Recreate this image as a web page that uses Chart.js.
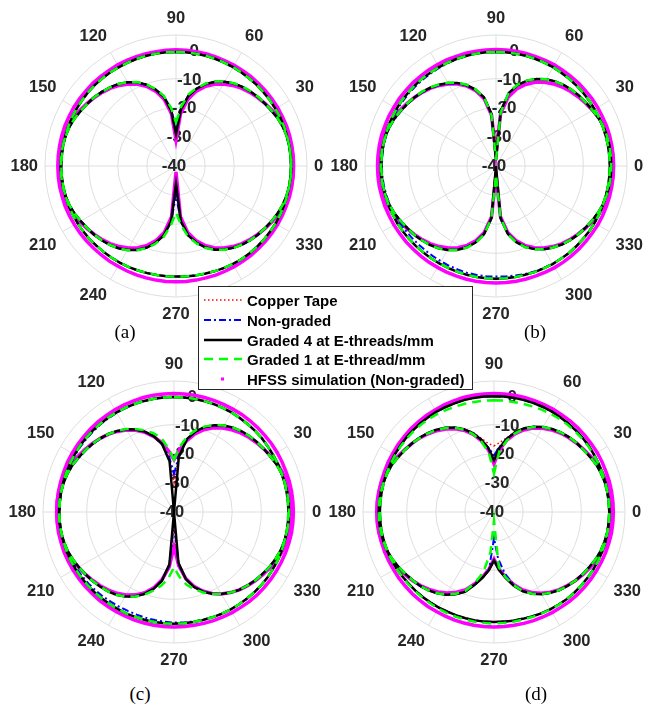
<!DOCTYPE html>
<html lang="en">
<head>
<meta charset="UTF-8">
<title>Radiation patterns (a)-(d)</title>
<script src="https://cdn.jsdelivr.net/npm/chart.js"></script>
<style>
  * { margin: 0; padding: 0; box-sizing: border-box; }
  body { width: 647px; height: 708px; background: #fff; overflow: hidden; position: relative;
         font-family: "Liberation Sans", Arial, sans-serif; }
  canvas.polar { position: absolute; }
  .tag { position: absolute; font-family: "Liberation Serif", "Times New Roman", serif; font-size: 19px;
         color: #000; transform: translate(-50%, -50%); }
  .legend { position: absolute; left: 198px; top: 286px; width: 275px; height: 104px; background: #fff;
            border: 1px solid #262626; z-index: 5; }
  .legend .row { position: absolute; left: 4px; height: 20px; display: flex; align-items: center;
                 font-weight: bold; font-size: 15px; color: #000; white-space: nowrap; }
  .legend svg { width: 40px; height: 20px; margin-right: 4px; }
</style>
</head>
<body>

<canvas class="polar" id="pa" width="340" height="340" style="left:6px; top:-4px"></canvas>
<canvas class="polar" id="pb" width="340" height="340" style="left:326px; top:-4px"></canvas>
<canvas class="polar" id="pc" width="340" height="340" style="left:4px; top:342px"></canvas>
<canvas class="polar" id="pd" width="340" height="340" style="left:324px; top:342px"></canvas>

<div class="tag" style="left:125px; top:332px">(a)</div>
<div class="tag" style="left:535px; top:332px">(b)</div>
<div class="tag" style="left:140px; top:694px">(c)</div>
<div class="tag" style="left:536px; top:694px">(d)</div>

<div class="legend">
  <div class="row" style="top:3px">
    <svg><line x1="1" y1="10" x2="39" y2="10" stroke="#ff0000" stroke-width="1.5" stroke-dasharray="1.5 2.5"/></svg>Copper Tape</div>
  <div class="row" style="top:23px">
    <svg><line x1="1" y1="10" x2="39" y2="10" stroke="#0000ff" stroke-width="2" stroke-dasharray="7 3 2 3"/></svg>Non-graded</div>
  <div class="row" style="top:43px">
    <svg><line x1="1" y1="10" x2="39" y2="10" stroke="#000" stroke-width="2.5"/></svg>Graded 4 at E-threads/mm</div>
  <div class="row" style="top:62px">
    <svg><line x1="1" y1="10" x2="39" y2="10" stroke="#00ff00" stroke-width="2.5" stroke-dasharray="9 6"/></svg>Graded 1 at E-thread/mm</div>
  <div class="row" style="top:82px">
    <svg><rect x="18" y="8.5" width="3" height="3" fill="#ff00ff"/></svg>HFSS simulation (Non-graded)</div>
</div>

<script>
// angle (deg, counter-clockwise from 0 = right), 5 deg steps
const thetaDeg = [0,5,10,15,20,25,30,35,40,45,50,55,60,65,70,75,80,85,
  90,95,100,105,110,115,120,125,130,135,140,145,150,155,160,165,170,175,
  180,185,190,195,200,205,210,215,220,225,230,235,240,245,250,255,260,265,
  270,275,280,285,290,295,300,305,310,315,320,325,330,335,340,345,350,355];
const thetaTicks = [0,30,60,90,120,150,180,210,240,270,300,330];
const rTicks = [-40,-30,-20,-10,0,5];
const rTickLabels = [-40,-30,-20,-10,0];
const seriesNames = ['Copper Tape','Non-graded','Graded 4 at E-threads/mm','Graded 1 at E-thread/mm','HFSS simulation (Non-graded)'];

// ---- (a) ----
const aRingMeas = [-0.5,-0.5,-0.5,-0.5,-0.5,-0.5,-0.6,-0.6,-0.7,-0.7,-0.8,-0.8,-0.8,-0.8,-0.8,-0.8,-0.8,-0.8,
  -0.8,-0.8,-0.8,-0.8,-0.8,-0.8,-0.8,-0.7,-0.7,-0.6,-0.6,-0.6,-0.6,-0.6,-0.6,-0.6,-0.6,-0.6,
  -0.6,-0.6,-0.6,-0.7,-0.7,-0.8,-0.9,-1.0,-1.1,-1.3,-1.4,-1.5,-1.6,-1.7,-1.8,-1.9,-2.0,-2.0,
  -2.0,-1.9,-1.8,-1.7,-1.5,-1.3,-1.1,-0.9,-0.8,-0.7,-0.6,-0.6,-0.5,-0.5,-0.5,-0.5,-0.5,-0.5];
const aRingSim = [0.4,0.4,0.4,0.4,0.4,0.3,0.3,0.2,0.2,0.1,0.1,0.0,0.0,-0.1,-0.1,-0.1,-0.1,-0.1,
  -0.1,-0.1,-0.1,-0.1,0.0,0.0,0.1,0.1,0.2,0.3,0.3,0.4,0.5,0.5,0.6,0.6,0.6,0.6,
  0.6,0.6,0.6,0.5,0.5,0.4,0.3,0.2,0.1,0.0,-0.1,-0.1,-0.2,-0.2,-0.2,-0.2,-0.2,-0.2,
  -0.2,-0.2,-0.2,-0.2,-0.1,-0.1,0.0,0.0,0.1,0.1,0.2,0.2,0.3,0.3,0.3,0.4,0.4,0.4];
const aLobeCu = [-0.4,-0.4,-0.5,-0.6,-0.9,-1.4,-2.1,-2.7,-3.2,-3.8,-4.5,-5.4,-6.6,-8.1,-10.0,-12.5,-15.6,-20.5,
  -28.0,-20.8,-15.9,-12.8,-10.3,-8.3,-6.8,-5.6,-4.7,-4.0,-3.3,-2.8,-2.2,-1.5,-1.0,-0.7,-0.5,-0.4,
  -0.4,-0.4,-0.5,-0.7,-1.0,-1.5,-2.2,-2.8,-3.3,-3.9,-4.6,-5.5,-6.7,-8.2,-10.1,-12.6,-15.8,-21.0,
  -32.0,-21.0,-15.8,-12.7,-10.2,-8.3,-6.9,-5.7,-4.7,-3.9,-3.3,-2.7,-2.1,-1.5,-1.0,-0.7,-0.5,-0.4];
const aLobeNG = [-0.4,-0.4,-0.5,-0.6,-0.9,-1.4,-2.1,-2.7,-3.2,-3.8,-4.5,-5.4,-6.6,-8.1,-10.0,-12.4,-15.4,-20.0,
  -27.0,-20.3,-15.7,-12.7,-10.3,-8.3,-6.8,-5.6,-4.7,-4.0,-3.3,-2.8,-2.2,-1.5,-1.0,-0.7,-0.5,-0.4,
  -0.4,-0.4,-0.5,-0.7,-1.0,-1.5,-2.2,-2.8,-3.3,-3.9,-4.6,-5.5,-6.7,-8.2,-10.1,-12.6,-15.8,-20.8,
  -30.0,-20.8,-15.8,-12.7,-10.2,-8.3,-6.9,-5.7,-4.7,-3.9,-3.3,-2.7,-2.1,-1.5,-1.0,-0.7,-0.5,-0.4];
const aLobeG4 = [-0.4,-0.4,-0.5,-0.6,-0.9,-1.4,-2.1,-2.7,-3.2,-3.8,-4.5,-5.4,-6.6,-8.1,-10.0,-12.5,-15.6,-20.5,
  -29.0,-20.8,-15.9,-12.8,-10.3,-8.3,-6.8,-5.6,-4.7,-4.0,-3.3,-2.8,-2.2,-1.5,-1.0,-0.7,-0.5,-0.4,
  -0.4,-0.4,-0.5,-0.7,-1.0,-1.5,-2.2,-2.8,-3.3,-3.9,-4.6,-5.5,-6.7,-8.2,-10.1,-12.6,-15.8,-21.0,
  -34.0,-21.0,-15.8,-12.7,-10.2,-8.3,-6.9,-5.7,-4.7,-3.9,-3.3,-2.7,-2.1,-1.5,-1.0,-0.7,-0.5,-0.4];
const aLobeG1 = [-0.4,-0.4,-0.5,-0.6,-0.9,-1.4,-2.0,-2.6,-3.1,-3.7,-4.4,-5.3,-6.5,-8.0,-9.8,-12.2,-15.0,-19.5,
  -25.0,-19.8,-15.4,-12.6,-10.2,-8.2,-6.8,-5.6,-4.7,-4.0,-3.3,-2.8,-2.2,-1.5,-1.0,-0.7,-0.5,-0.4,
  -0.4,-0.4,-0.5,-0.7,-1.0,-1.5,-2.2,-2.8,-3.3,-3.9,-4.6,-5.5,-6.6,-8.1,-9.9,-12.3,-15.2,-19.5,
  -24.0,-19.5,-15.2,-12.4,-10.0,-8.2,-6.8,-5.6,-4.7,-3.9,-3.3,-2.7,-2.1,-1.5,-1.0,-0.7,-0.5,-0.4];
const aLobeSim = [0.3,0.3,0.2,0.0,-0.4,-1.0,-1.8,-2.6,-3.4,-4.2,-5.1,-6.2,-7.5,-9.0,-11.0,-13.5,-16.8,-22.0,
  -31.0,-22.0,-16.8,-13.5,-11.0,-9.0,-7.5,-6.2,-5.1,-4.2,-3.4,-2.6,-1.8,-1.0,-0.4,0.0,0.2,0.3,
  0.3,0.3,0.2,0.0,-0.4,-1.0,-1.8,-2.6,-3.4,-4.2,-5.1,-6.2,-7.5,-9.0,-11.0,-13.5,-16.8,-22.5,
  -38.0,-22.5,-16.8,-13.5,-11.0,-9.0,-7.5,-6.2,-5.1,-4.2,-3.4,-2.6,-1.8,-1.0,-0.4,0.0,0.2,0.3];

// ---- (b) ----
const bRingMeas = [-0.9,-0.9,-0.9,-0.9,-0.9,-0.9,-0.9,-0.9,-0.9,-0.9,-0.9,-0.9,-0.8,-0.8,-0.8,-0.8,-0.8,-0.8,
  -0.8,-0.8,-0.8,-0.8,-0.8,-0.8,-0.8,-0.8,-0.7,-0.7,-0.7,-0.6,-0.6,-0.6,-0.6,-0.6,-0.6,-0.6,
  -0.6,-0.6,-0.6,-0.7,-0.7,-0.8,-0.8,-0.9,-1.0,-1.1,-1.2,-1.2,-1.3,-1.3,-1.3,-1.3,-1.3,-1.3,
  -1.3,-1.3,-1.3,-1.3,-1.2,-1.2,-1.1,-1.1,-1.0,-1.0,-1.0,-0.9,-0.9,-0.9,-0.9,-0.9,-0.9,-0.9];
const bRingNG = [-0.9,-0.9,-0.9,-0.9,-0.9,-0.9,-0.9,-0.9,-0.9,-0.9,-0.9,-0.9,-0.8,-0.8,-0.8,-0.8,-0.8,-0.8,
  -0.8,-0.8,-0.8,-0.9,-0.9,-1.0,-1.0,-1.1,-1.1,-1.1,-1.0,-1.0,-0.9,-0.9,-0.8,-0.8,-0.8,-0.8,
  -0.8,-0.8,-0.9,-1.0,-1.2,-1.4,-1.6,-1.8,-2.0,-2.1,-2.2,-2.2,-2.2,-2.1,-2.1,-2.0,-2.0,-2.0,
  -2.0,-1.9,-1.8,-1.6,-1.4,-1.3,-1.2,-1.1,-1.0,-1.0,-1.0,-0.9,-0.9,-0.9,-0.9,-0.9,-0.9,-0.9];
const bRingSim = [0.4,0.4,0.4,0.4,0.4,0.3,0.3,0.3,0.2,0.2,0.1,0.1,0.1,0.0,0.0,0.0,0.0,0.0,
  0.0,0.0,0.0,0.1,0.1,0.2,0.2,0.3,0.3,0.4,0.4,0.5,0.5,0.6,0.6,0.7,0.7,0.7,
  0.7,0.7,0.7,0.6,0.6,0.5,0.5,0.4,0.4,0.3,0.3,0.3,0.2,0.2,0.2,0.2,0.2,0.2,
  0.2,0.2,0.2,0.2,0.2,0.2,0.3,0.3,0.3,0.3,0.3,0.3,0.4,0.4,0.4,0.4,0.4,0.4];
const bLobeCu = [-0.4,-0.4,-0.4,-0.5,-0.7,-1.1,-1.7,-2.2,-2.6,-3.1,-3.7,-4.5,-5.6,-7.0,-8.8,-11.2,-14.5,-20.5,
  -32.0,-21.5,-16.0,-12.8,-10.4,-8.5,-7.1,-5.9,-4.9,-4.1,-3.4,-2.8,-2.2,-1.5,-1.0,-0.7,-0.5,-0.4,
  -0.4,-0.4,-0.5,-0.7,-1.0,-1.5,-2.2,-2.8,-3.3,-3.9,-4.6,-5.5,-6.7,-8.2,-10.2,-12.8,-16.2,-22.0,
  -38.0,-22.0,-16.3,-12.9,-10.4,-8.5,-7.0,-5.8,-4.8,-4.0,-3.3,-2.7,-2.1,-1.5,-1.0,-0.7,-0.5,-0.4];
const bLobeNG = [-0.4,-0.4,-0.4,-0.5,-0.7,-1.1,-1.7,-2.2,-2.6,-3.1,-3.7,-4.5,-5.6,-7.0,-8.8,-11.2,-14.5,-21.0,
  -36.0,-22.0,-16.2,-13.0,-10.6,-8.7,-7.3,-6.1,-5.0,-4.2,-3.5,-2.9,-2.3,-1.6,-1.1,-0.8,-0.6,-0.5,
  -0.5,-0.5,-0.6,-0.8,-1.1,-1.6,-2.3,-2.9,-3.4,-4.0,-4.7,-5.6,-6.8,-8.3,-10.3,-12.9,-16.3,-22.0,
  -38.0,-22.0,-16.3,-12.9,-10.4,-8.5,-7.0,-5.8,-4.8,-4.0,-3.3,-2.7,-2.1,-1.5,-1.0,-0.7,-0.5,-0.4];
const bLobeG4 = [-0.4,-0.4,-0.4,-0.5,-0.7,-1.1,-1.7,-2.2,-2.6,-3.1,-3.7,-4.5,-5.6,-7.0,-8.8,-11.2,-14.5,-21.0,
  -38.0,-22.0,-16.0,-12.8,-10.4,-8.5,-7.1,-5.9,-4.9,-4.1,-3.4,-2.8,-2.2,-1.5,-1.0,-0.7,-0.5,-0.4,
  -0.4,-0.4,-0.5,-0.7,-1.0,-1.5,-2.2,-2.8,-3.3,-3.9,-4.6,-5.5,-6.7,-8.2,-10.2,-12.8,-16.2,-22.0,
  -40.0,-22.0,-16.3,-12.9,-10.4,-8.5,-7.0,-5.8,-4.8,-4.0,-3.3,-2.7,-2.1,-1.5,-1.0,-0.7,-0.5,-0.4];
const bLobeG1 = [-0.4,-0.4,-0.4,-0.5,-0.7,-1.1,-1.7,-2.2,-2.6,-3.1,-3.7,-4.5,-5.6,-7.0,-8.7,-11.0,-14.2,-21.5,
  -38.0,-22.5,-15.8,-12.7,-10.3,-8.4,-7.0,-5.8,-4.8,-4.0,-3.3,-2.7,-2.1,-1.5,-1.0,-0.7,-0.5,-0.4,
  -0.4,-0.4,-0.5,-0.7,-1.0,-1.5,-2.2,-2.8,-3.3,-3.9,-4.6,-5.5,-6.7,-8.2,-10.1,-12.6,-16.0,-22.0,
  -37.0,-22.0,-16.1,-12.8,-10.3,-8.4,-7.0,-5.8,-4.8,-4.0,-3.3,-2.7,-2.1,-1.5,-1.0,-0.7,-0.5,-0.4];
const bLobeSim = [0.3,0.3,0.2,0.0,-0.4,-1.0,-1.7,-2.4,-3.1,-3.8,-4.6,-5.6,-6.8,-8.3,-10.2,-12.6,-16.0,-22.0,
  -36.0,-22.5,-16.5,-13.2,-10.8,-8.9,-7.5,-6.2,-5.1,-4.2,-3.4,-2.6,-1.8,-1.0,-0.4,0.0,0.2,0.3,
  0.3,0.3,0.2,0.0,-0.4,-1.0,-1.8,-2.6,-3.4,-4.2,-5.1,-6.2,-7.5,-9.0,-11.0,-13.5,-16.8,-22.5,
  -37.0,-22.5,-16.8,-13.5,-11.0,-9.0,-7.5,-6.2,-5.1,-4.2,-3.4,-2.6,-1.8,-1.0,-0.4,0.0,0.2,0.3];

// ---- (c) ----
const cRingMeas = [-0.7,-0.7,-0.7,-0.7,-0.7,-0.7,-0.7,-0.7,-0.6,-0.6,-0.6,-0.6,-0.5,-0.5,-0.5,-0.5,-0.5,-0.5,
  -0.5,-0.5,-0.5,-0.5,-0.5,-0.5,-0.5,-0.5,-0.5,-0.5,-0.5,-0.5,-0.6,-0.6,-0.6,-0.6,-0.6,-0.6,
  -0.6,-0.6,-0.6,-0.7,-0.7,-0.8,-0.9,-1.0,-1.1,-1.2,-1.3,-1.4,-1.5,-1.5,-1.6,-1.6,-1.6,-1.6,
  -1.6,-1.6,-1.6,-1.6,-1.5,-1.4,-1.3,-1.2,-1.1,-1.0,-0.9,-0.8,-0.8,-0.7,-0.7,-0.7,-0.7,-0.7];
const cRingNG = [-0.7,-0.7,-0.7,-0.7,-0.7,-0.7,-0.7,-0.7,-0.6,-0.6,-0.6,-0.6,-0.5,-0.5,-0.5,-0.5,-0.5,-0.5,
  -0.5,-0.5,-0.5,-0.5,-0.5,-0.6,-0.6,-0.7,-0.7,-0.8,-0.8,-0.8,-0.8,-0.8,-0.7,-0.7,-0.7,-0.7,
  -0.7,-0.7,-0.7,-0.8,-0.9,-1.0,-1.3,-1.5,-1.7,-1.9,-2.1,-2.3,-2.4,-2.5,-2.5,-2.4,-2.3,-2.2,
  -2.0,-1.9,-1.8,-1.7,-1.5,-1.4,-1.3,-1.2,-1.1,-1.0,-0.9,-0.8,-0.8,-0.7,-0.7,-0.7,-0.7,-0.7];
const cRingSim = [1.0,1.0,1.0,1.0,0.9,0.9,0.9,0.9,0.8,0.8,0.8,0.8,0.7,0.7,0.7,0.7,0.7,0.7,
  0.7,0.7,0.7,0.7,0.6,0.6,0.6,0.5,0.5,0.5,0.4,0.4,0.4,0.4,0.3,0.3,0.3,0.3,
  0.3,0.3,0.3,0.2,0.2,0.1,0.0,-0.1,-0.2,-0.3,-0.3,-0.4,-0.4,-0.5,-0.5,-0.5,-0.5,-0.5,
  -0.5,-0.5,-0.5,-0.4,-0.3,-0.2,-0.1,0.0,0.2,0.3,0.4,0.5,0.6,0.7,0.8,0.9,1.0,1.0];
const cLobeCu = [-0.5,-0.5,-0.5,-0.6,-0.8,-1.2,-1.8,-2.3,-2.7,-3.2,-3.8,-4.6,-5.7,-7.1,-8.9,-11.3,-14.6,-20.5,
  -30.0,-21.5,-16.3,-13.0,-10.6,-8.7,-7.2,-6.0,-5.0,-4.2,-3.5,-2.9,-2.3,-1.6,-1.1,-0.8,-0.6,-0.5,
  -0.5,-0.5,-0.6,-0.8,-1.1,-1.6,-2.2,-2.8,-3.3,-3.9,-4.5,-5.3,-6.5,-8.0,-10.0,-12.6,-16.0,-21.5,
  -34.0,-22.0,-16.6,-13.3,-10.9,-9.0,-7.5,-6.2,-5.1,-4.3,-3.5,-2.9,-2.2,-1.6,-1.1,-0.8,-0.6,-0.5];
const cLobeNG = [-0.5,-0.5,-0.5,-0.6,-0.8,-1.2,-1.8,-2.3,-2.8,-3.3,-3.9,-4.7,-5.8,-7.2,-9.0,-11.4,-14.8,-20.5,
  -27.0,-21.0,-16.4,-13.1,-10.7,-8.8,-7.3,-6.1,-5.1,-4.3,-3.6,-3.0,-2.4,-1.7,-1.2,-0.8,-0.6,-0.5,
  -0.5,-0.5,-0.6,-0.8,-1.1,-1.6,-2.2,-2.8,-3.3,-3.9,-4.5,-5.3,-6.5,-8.0,-10.0,-12.6,-16.0,-21.5,
  -36.0,-22.0,-16.6,-13.3,-10.9,-9.0,-7.5,-6.2,-5.1,-4.3,-3.5,-2.9,-2.2,-1.6,-1.1,-0.8,-0.6,-0.5];
const cLobeG4 = [-0.5,-0.5,-0.5,-0.6,-0.8,-1.2,-1.8,-2.3,-2.7,-3.2,-3.8,-4.6,-5.7,-7.1,-8.9,-11.3,-14.6,-21.0,
  -40.0,-22.5,-16.3,-13.0,-10.6,-8.7,-7.2,-6.0,-5.0,-4.2,-3.5,-2.9,-2.3,-1.6,-1.1,-0.8,-0.6,-0.5,
  -0.5,-0.5,-0.6,-0.8,-1.1,-1.6,-2.2,-2.8,-3.3,-3.9,-4.5,-5.3,-6.5,-8.0,-10.0,-12.6,-16.0,-22.0,
  -40.0,-22.5,-16.6,-13.3,-10.9,-9.0,-7.5,-6.2,-5.1,-4.3,-3.5,-2.9,-2.2,-1.6,-1.1,-0.8,-0.6,-0.5];
const cLobeG1 = [-0.5,-0.5,-0.5,-0.6,-0.8,-1.2,-1.8,-2.3,-2.7,-3.2,-3.8,-4.6,-5.7,-7.0,-8.7,-10.8,-13.6,-17.5,
  -22.0,-18.0,-14.0,-11.9,-10.1,-8.5,-7.1,-6.0,-5.0,-4.2,-3.5,-2.9,-2.3,-1.6,-1.1,-0.8,-0.6,-0.5,
  -0.5,-0.5,-0.6,-0.8,-1.1,-1.6,-2.2,-2.8,-3.3,-3.9,-4.5,-5.3,-6.5,-7.9,-9.7,-11.9,-14.3,-17.0,
  -21.0,-17.5,-14.5,-12.5,-10.6,-8.9,-7.5,-6.2,-5.1,-4.3,-3.5,-2.9,-2.2,-1.6,-1.1,-0.8,-0.6,-0.5];
const cLobeSim = [0.4,0.4,0.3,0.1,-0.3,-0.9,-1.6,-2.3,-3.0,-3.7,-4.5,-5.5,-6.7,-8.1,-9.9,-12.2,-15.2,-18.5,
  -22.0,-19.0,-15.8,-13.2,-10.9,-9.0,-7.5,-6.2,-5.1,-4.2,-3.4,-2.6,-1.8,-1.0,-0.4,0.0,0.2,0.3,
  0.3,0.2,0.0,-0.3,-0.8,-1.4,-2.1,-2.8,-3.5,-4.2,-5.0,-5.9,-7.1,-8.6,-10.5,-13.0,-16.5,-21.0,
  -28.0,-21.5,-16.8,-13.6,-11.1,-9.1,-7.5,-6.2,-5.1,-4.2,-3.4,-2.6,-1.8,-1.0,-0.4,0.0,0.3,0.4];

// ---- (d) ----
const dRingMeas = [-0.4,-0.4,-0.4,-0.4,-0.4,-0.4,-0.4,-0.3,-0.3,-0.3,-0.3,-0.3,-0.2,-0.2,-0.2,-0.2,-0.2,-0.2,
  -0.2,-0.2,-0.2,-0.2,-0.3,-0.3,-0.3,-0.4,-0.4,-0.5,-0.5,-0.6,-0.6,-0.7,-0.7,-0.8,-0.8,-0.8,
  -0.8,-0.8,-0.8,-0.9,-1.0,-1.1,-1.3,-1.5,-1.7,-1.8,-1.9,-2.0,-2.1,-2.2,-2.2,-2.2,-2.2,-2.2,
  -2.2,-2.2,-2.1,-2.0,-1.8,-1.6,-1.4,-1.2,-1.0,-0.9,-0.8,-0.7,-0.6,-0.5,-0.5,-0.4,-0.4,-0.4];
const dRingG1 = [-0.4,-0.4,-0.4,-0.4,-0.4,-0.4,-0.5,-0.5,-0.6,-0.7,-0.8,-0.9,-1.1,-1.2,-1.4,-1.5,-1.6,-1.6,
  -1.6,-1.6,-1.6,-1.5,-1.4,-1.3,-1.1,-1.0,-0.9,-0.8,-0.8,-0.8,-0.8,-0.8,-0.8,-0.8,-0.8,-0.8,
  -0.8,-0.8,-0.8,-0.9,-1.0,-1.1,-1.3,-1.4,-1.5,-1.6,-1.7,-1.7,-1.7,-1.7,-1.7,-1.7,-1.7,-1.7,
  -1.7,-1.7,-1.7,-1.7,-1.6,-1.5,-1.3,-1.1,-1.0,-0.9,-0.8,-0.7,-0.6,-0.5,-0.5,-0.4,-0.4,-0.4];
const dRingSim = [1.0,1.0,1.0,1.0,0.9,0.9,0.9,0.8,0.8,0.8,0.8,0.7,0.7,0.7,0.7,0.7,0.7,0.7,
  0.7,0.7,0.7,0.7,0.6,0.6,0.5,0.5,0.4,0.4,0.3,0.3,0.2,0.2,0.1,0.1,0.1,0.1,
  0.1,0.1,0.1,0.0,0.0,-0.1,-0.2,-0.2,-0.3,-0.3,-0.4,-0.4,-0.5,-0.5,-0.5,-0.5,-0.5,-0.5,
  -0.5,-0.5,-0.5,-0.4,-0.3,-0.2,-0.1,0.0,0.2,0.3,0.4,0.5,0.6,0.7,0.8,0.9,1.0,1.0];
const dLobeCu = [-0.4,-0.4,-0.5,-0.6,-0.9,-1.3,-2.0,-2.6,-3.0,-3.6,-4.3,-5.2,-6.3,-7.6,-9.2,-11.2,-14.0,-16.0,
  -17.3,-16.3,-14.2,-11.6,-9.6,-8.0,-6.6,-5.5,-4.6,-3.9,-3.3,-2.7,-2.1,-1.4,-1.0,-0.7,-0.5,-0.4,
  -0.4,-0.4,-0.5,-0.7,-1.0,-1.5,-2.2,-2.9,-3.5,-4.1,-4.9,-5.9,-7.2,-8.8,-10.8,-14.0,-17.0,-20.0,
  -23.0,-20.0,-17.0,-13.8,-11.0,-9.0,-7.4,-6.1,-5.0,-4.2,-3.4,-2.8,-2.2,-1.5,-1.0,-0.7,-0.5,-0.4];
const dLobeNG = [-0.4,-0.4,-0.5,-0.6,-0.9,-1.3,-2.0,-2.6,-3.0,-3.6,-4.3,-5.2,-6.3,-7.7,-9.4,-11.6,-14.3,-17.5,
  -20.5,-17.8,-14.7,-11.9,-9.7,-8.0,-6.6,-5.5,-4.6,-3.9,-3.3,-2.7,-2.1,-1.4,-1.0,-0.7,-0.5,-0.4,
  -0.4,-0.4,-0.5,-0.7,-1.0,-1.5,-2.2,-2.9,-3.5,-4.1,-4.9,-5.9,-7.2,-8.8,-10.8,-14.0,-17.0,-20.0,
  -31.0,-24.0,-18.5,-14.3,-11.2,-9.1,-7.4,-6.1,-5.0,-4.2,-3.4,-2.8,-2.2,-1.5,-1.0,-0.7,-0.5,-0.4];
const dLobeG4 = [-0.4,-0.4,-0.5,-0.6,-0.9,-1.3,-2.0,-2.6,-3.0,-3.6,-4.3,-5.2,-6.3,-7.7,-9.4,-11.6,-14.5,-17.8,
  -22.2,-18.0,-14.8,-11.9,-9.7,-8.0,-6.6,-5.5,-4.6,-3.9,-3.3,-2.7,-2.1,-1.4,-1.0,-0.7,-0.5,-0.4,
  -0.4,-0.4,-0.5,-0.7,-1.0,-1.5,-2.2,-2.9,-3.5,-4.1,-4.9,-5.9,-7.2,-8.8,-10.8,-14.0,-17.0,-20.0,
  -23.4,-20.0,-17.0,-13.8,-11.0,-9.0,-7.4,-6.1,-5.0,-4.2,-3.4,-2.8,-2.2,-1.5,-1.0,-0.7,-0.5,-0.4];
const dLobeG1 = [-0.4,-0.4,-0.5,-0.6,-0.9,-1.3,-2.0,-2.6,-3.0,-3.6,-4.3,-5.2,-6.3,-7.8,-9.6,-12.0,-15.2,-19.0,
  -26.8,-19.5,-15.5,-12.3,-9.9,-8.1,-6.7,-5.6,-4.7,-4.0,-3.3,-2.7,-2.1,-1.4,-1.0,-0.7,-0.5,-0.4,
  -0.4,-0.4,-0.5,-0.7,-1.0,-1.5,-2.2,-2.9,-3.5,-4.1,-4.9,-5.9,-7.3,-9.0,-11.2,-14.8,-19.0,-26.0,
  -37.0,-21.0,-17.3,-14.0,-11.1,-9.0,-7.4,-6.1,-5.0,-4.2,-3.4,-2.8,-2.2,-1.5,-1.0,-0.7,-0.5,-0.4];
const dLobeSim = [0.3,0.3,0.2,0.0,-0.4,-1.0,-1.7,-2.4,-3.1,-3.8,-4.6,-5.6,-6.8,-8.2,-10.0,-12.2,-15.0,-18.5,
  -23.5,-18.7,-15.2,-12.4,-10.2,-8.5,-7.1,-5.9,-4.9,-4.0,-3.3,-2.6,-1.8,-1.0,-0.4,0.0,0.2,0.3,
  0.3,0.3,0.2,0.0,-0.4,-1.0,-1.8,-2.6,-3.4,-4.3,-5.3,-6.5,-7.9,-9.6,-11.6,-14.5,-17.4,-20.3,
  -23.8,-20.3,-17.4,-14.3,-11.6,-9.5,-7.8,-6.4,-5.2,-4.3,-3.4,-2.6,-1.8,-1.0,-0.4,0.0,0.2,0.3];

// line styles, legend order; higher "order" is painted first (underneath)
const styles = [
  { borderColor: '#ff0000', borderWidth: 1.5, borderDash: [1.5, 2.5], order: 4 },
  { borderColor: '#0000ff', borderWidth: 2, borderDash: [7, 3, 2, 3], order: 3 },
  { borderColor: '#000000', borderWidth: 2.5, order: 2 },
  { borderColor: '#00ff00', borderWidth: 2.5, borderDash: [9, 6], order: 1 },
  { borderColor: '#ff00ff', borderWidth: 3.5, order: 5 }
];

const panels = [
  { id: 'pa', rings: [aRingMeas, aRingMeas, aRingMeas, aRingMeas, aRingSim],
    lobes: [aLobeCu, aLobeNG, aLobeG4, aLobeG1, aLobeSim] },
  { id: 'pb', rings: [bRingMeas, bRingNG, bRingMeas, bRingMeas, bRingSim],
    lobes: [bLobeCu, bLobeNG, bLobeG4, bLobeG1, bLobeSim] },
  { id: 'pc', rings: [cRingMeas, cRingNG, cRingMeas, cRingMeas, cRingSim],
    lobes: [cLobeCu, cLobeNG, cLobeG4, cLobeG1, cLobeSim] },
  { id: 'pd', rings: [dRingMeas, dRingMeas, dRingMeas, dRingG1, dRingSim],
    lobes: [dLobeCu, dLobeNG, dLobeG4, dLobeG1, dLobeSim] }
];

// radar runs clockwise from the top, polar angle runs counter-clockwise from the right
const radarLabels = thetaDeg.map(t => (450 - t) % 360);
const toRadar = arr => radarLabels.map(a => arr[thetaDeg.indexOf(a)]);

const gridColor = '#dedede';
const textColor = '#262626';

const polarText = {
  id: 'polarText',
  beforeDatasetsDraw(chart) {
    const s = chart.scales.r, ctx = chart.ctx;
    ctx.save();
    ctx.fillStyle = textColor;
    ctx.textAlign = 'center';
    ctx.textBaseline = 'middle';
    ctx.font = 'bold 17px "Liberation Sans", Arial, sans-serif';
    const a = 80 * Math.PI / 180;
    rTickLabels.forEach(v => {
      const d = s.getDistanceFromCenterForValue(v);
      ctx.fillText(String(v), s.xCenter - 2 + d * Math.cos(a), s.yCenter - d * Math.sin(a));
    });
    // theta labels: anchored just outside the rim, aligned away from the centre
    ctx.font = 'bold 16.5px "Liberation Sans", Arial, sans-serif';
    thetaTicks.forEach(t => {
      const w = ctx.measureText(String(t)).width;
      const rad = t * Math.PI / 180;
      const c = Math.cos(rad), sn = Math.sin(rad);
      const d = s.drawingArea + 7;
      let x = s.xCenter + d * c, y = s.yCenter - d * sn;
      if (c > 0.01) x += w / 2; else if (c < -0.01) x -= w / 2;
      if (sn > 0.01) y -= 10; else if (sn < -0.01) y += 10;
      ctx.fillText(String(t), x, y);
    });
    ctx.restore();
  }
};

panels.forEach(p => {
  const datasets = [];
  seriesNames.forEach((name, k) => {
    [p.lobes[k], p.rings[k]].forEach(arr => {
      datasets.push(Object.assign({
        label: name, data: toRadar(arr), fill: false,
        pointRadius: 0, pointHoverRadius: 0, tension: 0
      }, styles[k]));
    });
  });

  new Chart(document.getElementById(p.id), {
    type: 'radar',
    data: { labels: radarLabels, datasets: datasets },
    options: {
      responsive: false,
      animation: false,
      events: [],
      layout: { padding: 39 },
      plugins: { legend: { display: false }, tooltip: { enabled: false } },
      scales: {
        r: {
          min: -40, max: 5, startAngle: 0,
          afterBuildTicks: s => { s.ticks = rTicks.map(v => ({ value: v })); },
          ticks: { display: false },
          grid: { circular: true, color: gridColor, lineWidth: 1 },
          angleLines: {
            color: c => radarLabels[c.index] % 30 === 0 ? gridColor : 'rgba(0,0,0,0)',
            lineWidth: c => radarLabels[c.index] % 30 === 0 ? 1 : 0
          },
          pointLabels: { display: false }
        }
      }
    },
    plugins: [polarText]
  });
});
</script>
</body>
</html>
